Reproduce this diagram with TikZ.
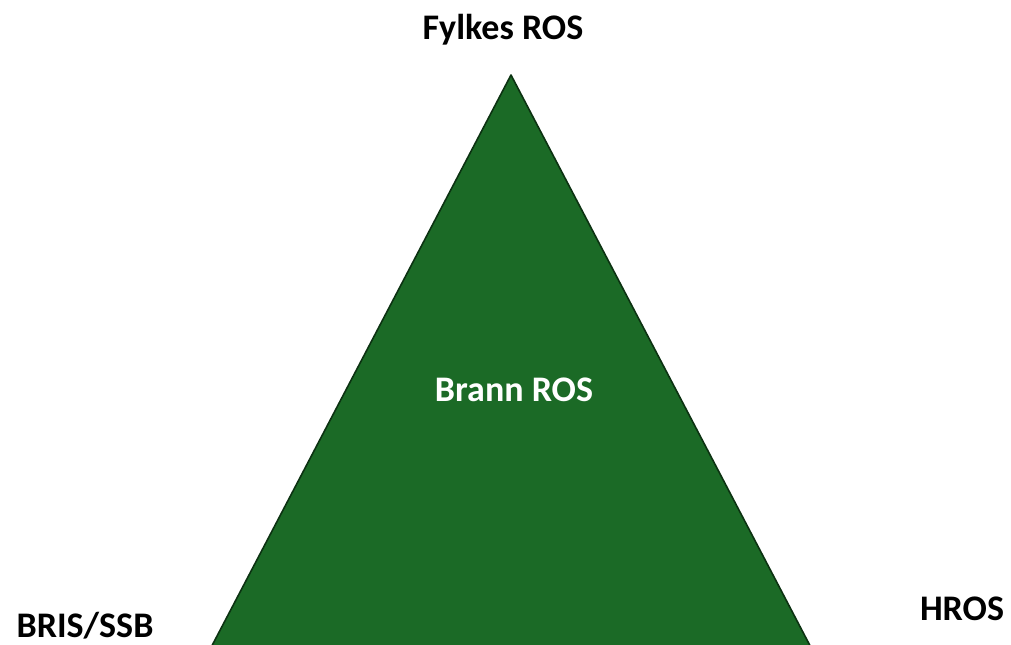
\documentclass[tikz,border=0pt]{standalone}
\usepackage{fontspec}
\setmainfont{Carlito}
\definecolor{trifill}{RGB}{27,106,38}
\definecolor{triedge}{RGB}{12,50,18}
\begin{document}
\begin{tikzpicture}[x=0.75pt,y=-0.75pt,
  lbl/.style={font=\fontsize{27}{32}\selectfont\bfseries, inner sep=0pt, anchor=base},
  tri/.style={fill=trifill, draw=triedge, line width=1.2pt, line join=round}]
\useasboundingbox (0,0) rectangle (1011,644);
\clip (0,0) rectangle (1011,644);
\coordinate (apex) at (511,75);
\coordinate (bl) at (183.5,700);
\coordinate (br) at (838.5,700);
\draw[tri] (apex) -- (br) -- (bl) -- cycle;
\node[lbl] (fylkes) at (503,39) {Fylkes ROS};
\node[lbl, text=white] (brann) at (514,401) {Brann ROS};
\node[lbl] (hros) at (962,620) {HROS};
\node[lbl] (bris) at (85,637) {BRIS/SSB};
\end{tikzpicture}
\end{document}
